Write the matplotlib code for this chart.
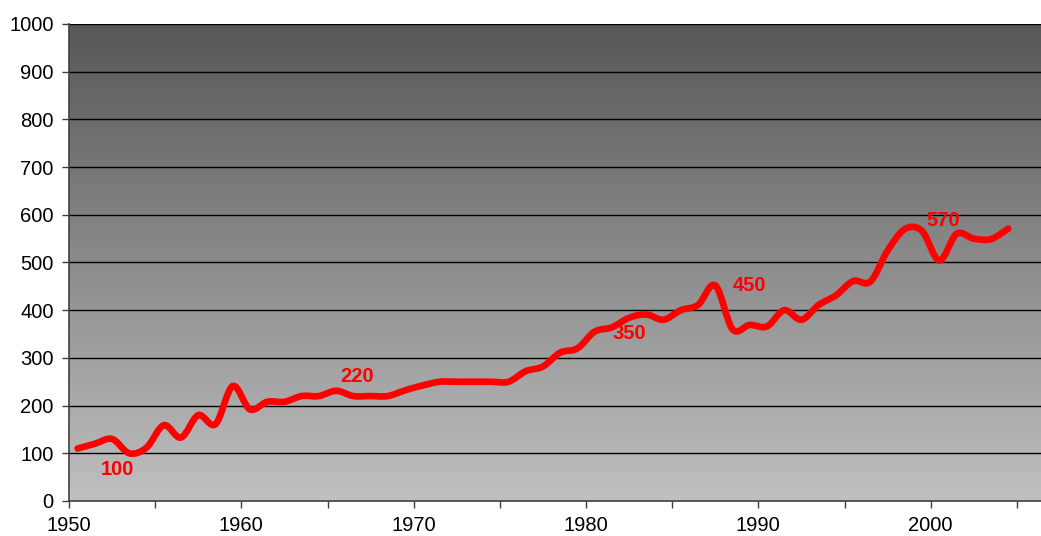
import numpy as np
import matplotlib
matplotlib.use("Agg")
import matplotlib.pyplot as plt
from matplotlib.path import Path
from matplotlib.patches import PathPatch

plt.rcParams["font.family"] = ["Liberation Sans", "DejaVu Sans"]

# annual values, 1950-2004
years = list(range(1950, 2005))
values = [
    110, 120, 130, 100, 112, 159, 133, 180, 161, 241,
    192, 208, 208, 220, 220, 231, 220, 220, 220, 232,
    242, 250, 250, 250, 250, 250, 272, 282, 311, 320,
    355, 364, 384, 391, 380, 400, 411, 452, 360, 369,
    366, 400, 380, 411, 431, 461, 460, 525, 570, 566,
    504, 560, 550, 549, 571,
]

# red callouts: text, year position, value position
label_text = ["100", "220", "350", "450", "570"]
label_year = [1952.8, 1966.7, 1982.5, 1989.5, 2000.7]
label_value = [67, 262, 352, 451, 587]

y_ticks = list(range(0, 1001, 100))
x_ticks = list(range(1950, 2006, 5))


def smooth_path(xs, ys):
    # excel-style smoothed line: cubic bezier through every point
    pts = np.column_stack([xs, ys])
    verts = [pts[0]]
    codes = [Path.MOVETO]
    n = len(pts)
    for i in range(n - 1):
        p0 = pts[i - 1] if i > 0 else pts[i]
        p1 = pts[i]
        p2 = pts[i + 1]
        p3 = pts[i + 2] if i + 2 < n else pts[i + 1]
        c1 = p1 + (p2 - p0) / 6.0
        c2 = p2 - (p3 - p1) / 6.0
        verts += [c1, c2, p2]
        codes += [Path.CURVE4] * 3
    return Path(verts, codes)


fig = plt.figure(figsize=(10.41, 5.36), dpi=100)
ax = fig.add_axes([0.0663, 0.0653, 0.9337, 0.89])

# grey gradient background, dark on top
grad = np.linspace(0, 1, 256).reshape(-1, 1)
ax.imshow(grad, extent=[0, 1, 0, 1], transform=ax.transAxes,
          cmap=matplotlib.colors.LinearSegmentedColormap.from_list(
              "bg", ["#c0c0c0", "#575757"]),
          origin="lower", aspect="auto", zorder=0)

ax.set_xlim(1950, 2006.4)
ax.set_ylim(0, 1000)

for v in y_ticks[1:]:
    ax.axhline(v, color="black", linewidth=1.0, zorder=1)

# categories sit in the middle of each year slot
xs = np.array(years, dtype=float) + 0.5
patch = PathPatch(smooth_path(xs, np.array(values, dtype=float)),
                  facecolor="none", edgecolor="#ff0000", linewidth=4.8,
                  capstyle="round", joinstyle="round", zorder=3)
ax.add_patch(patch)

for t, x, y in zip(label_text, label_year, label_value):
    ax.text(x, y, t, color="#ff0000", fontsize=14.5, fontweight="bold",
            ha="center", va="center", zorder=4)

ax.set_yticks(y_ticks)
ax.set_yticklabels([str(v) for v in y_ticks])
ax.set_xticks(x_ticks)
ax.set_xticklabels([str(x) if x % 10 == 0 else "" for x in x_ticks])
ax.tick_params(axis="both", labelsize=14.5, length=5, width=1,
               color="#404040", direction="out")
ax.tick_params(axis="y", pad=6)
ax.tick_params(axis="x", pad=6)

for side in ["top", "right"]:
    ax.spines[side].set_visible(False)
for side in ["left", "bottom"]:
    ax.spines[side].set_color("#404040")
    ax.spines[side].set_linewidth(1.2)

fig.savefig("out.png", dpi=100)
